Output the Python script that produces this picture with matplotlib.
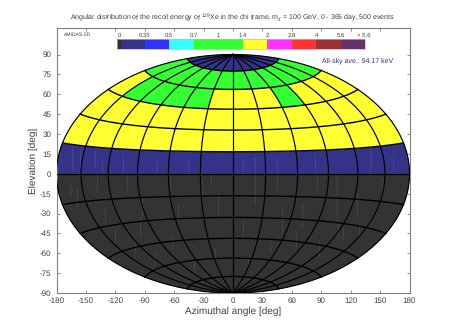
import numpy as np
import matplotlib
matplotlib.use("Agg")
import matplotlib.pyplot as plt
from matplotlib.colors import ListedColormap, BoundaryNorm

plt.rcParams['font.family'] = ['Liberation Sans', 'DejaVu Sans']
plt.rcParams['axes.unicode_minus'] = False
plt.rcParams['text.hinting'] = 'none'
plt.rcParams['text.hinting_factor'] = 1
plt.rcParams['mathtext.fontset'] = 'custom'
plt.rcParams['mathtext.rm'] = 'Liberation Sans'
plt.rcParams['mathtext.it'] = 'Liberation Sans:italic'
plt.rcParams['mathtext.bf'] = 'Liberation Sans:bold'
plt.rcParams['mathtext.fallback'] = 'stixsans'
TXT = '#404040'
GR = '#808080'

lon_edges = [-180, -150, -120, -90, -60, -30, 0, 30, 60, 90, 120, 150, 180]
lat_edges = [-90, -75, -60, -45, -30, -15, 0, 15, 30, 45, 60, 75, 90]

# ratio to the all-sky average, rows from south to north, columns west to east
row_s90 = [0.0] * 12
row_s75 = [0.0] * 12
row_s60 = [0.0] * 12
row_s45 = [0.0] * 12
row_s30 = [0.0] * 12
row_s15 = [0.0] * 12
row_n00 = [0.2] * 12
row_n15 = [1.6] * 12
row_n30 = [1.6] * 12
row_n45 = [1.6, 1.1, 1.1, 1.1, 1.1, 1.6, 1.6, 1.6, 1.1, 1.6, 1.6, 1.6]
row_n60 = [1.1] * 12
row_n75 = [0.2] * 12
ratio = [row_s90, row_s75, row_s60, row_s45, row_s30, row_s15,
         row_n00, row_n15, row_n30, row_n45, row_n60, row_n75]

level_labels = ['0', '0.35', '0.5', '0.7', '1', '1.4', '2', '2.8', '4', '5.6', '> 5.6']
level_bounds = [-0.01, 0.01, 0.35, 0.5, 0.7, 1.4, 2.0, 2.8, 4.0, 5.6, 100]
level_colors = ['#333333', '#333388', '#3333ff', '#33ffff', '#33ff33',
                '#ffff33', '#ff33ff', '#ff3333', '#993333', '#663366']
bar_edges = [-118, -113, -90, -65, -40, 10, 35, 60, 85, 110, 135]
label_pos = [-116, -90, -65, -40, -15, 10, 35, 60, 85, 110, 133]
bar_bottom, bar_top = 94.5, 101.5

# faint vertical streaks seen in the low-value cells
streak_x = [-164.6, -156, -141, -134, -112, -78, -45.5, -22, -159.4, -108.5, -95, -166, -139,
            -64, -32, -56, -15, -130.5, -93, 10.5, 22.4, 44.5, 44.5, 83.6, 105.7, 105.7, 139.7,
            141.4, 163.5, 10.5, 49.6, 85.3, 126, 151.6, 70, 107.4,
            -120, -100, -80, -62, -40, -18, 15, 38, 64, 88, 112, 128]
streak_lo = [2.9, 2.9, 5.4, 0.4, 0.4, 1.6, 0.4, -7.2, -24.8, -12.2, -47.5, -17.3, -14.8,
             -12.2, -17.3, -34.9, -32.4, -37.4, -32.4, 0.4, -22.3, 0.4, -12.2, 0.4, -17.3, -34.9, 0.4,
             5.4, 2.9, -47.5, -45, -12.2, -32.4, -17.3, -40, -47.5,
             -52, -60, -68, -57, -72, -65, -72, -60, -55, -62, -50, -48]
streak_hi = [20.4, 17.9, 17.9, 10.4, 15.4, 12.9, 10.4, 0.0, -9.7, 0.4, -32.4, -7.2, -2.2,
             -0.9, -4.7, -22.3, -14.8, -24.8, -17.3, 10.4, 12.9, 10.4, 0.4, 15.4, 0.4, -17.3, 20.4,
             15.4, 15.4, -34.9, -25, 0.4, -14.8, -2.2, -22, -37.4,
             -42, -50, -58, -47, -62, -55, -62, -50, -45, -52, -40, -38]

cmap = ListedColormap(level_colors)
norm = BoundaryNorm(level_bounds, cmap.N)


def hammer(lon, lat):
    lam = np.radians(np.asarray(lon, float))
    phi = np.radians(np.asarray(lat, float))
    d = np.sqrt(1 + np.cos(phi) * np.cos(lam / 2))
    return 180 * np.cos(phi) * np.sin(lam / 2) / d, 90 * np.sin(phi) / d


fig = plt.figure(figsize=(4.58, 3.21), dpi=100)
ax = fig.add_axes([56.5 / 458, 28 / 321, 353 / 458, 265 / 321])
ax.set_xlim(-180, 180)
ax.set_ylim(-90, 110)

for j in range(12):
    for i in range(12):
        lo = np.linspace(lon_edges[i], lon_edges[i + 1], 20)
        la = np.linspace(lat_edges[j], lat_edges[j + 1], 20)
        plon = np.r_[lo, np.full(20, lo[-1]), lo[::-1], np.full(20, lo[0])]
        plat = np.r_[np.full(20, la[0]), la, np.full(20, la[-1]), la[::-1]]
        x, y = hammer(plon, plat)
        c = cmap(norm(ratio[j][i]))
        ax.fill(x, y, color=c, lw=0.3, zorder=1)

ax.vlines(streak_x, streak_lo, streak_hi, color='white', alpha=0.09, lw=0.7, zorder=2)

for lat in lat_edges[1:-1]:
    x, y = hammer(np.linspace(-180, 180, 200), np.full(200, lat))
    ax.plot(x, y, color='black', lw=1.0, zorder=3)
for lon in lon_edges:
    x, y = hammer(np.full(200, lon), np.linspace(-90, 90, 200))
    ax.plot(x, y, color='black', lw=0.85, zorder=3)

for k in range(len(level_colors)):
    ax.fill_between([bar_edges[k], bar_edges[k + 1]], bar_bottom, bar_top,
                    color=level_colors[k], lw=0, zorder=2)
ax.plot([bar_edges[0], bar_edges[-1], bar_edges[-1], bar_edges[0], bar_edges[0]],
        [bar_bottom, bar_bottom, bar_top, bar_top, bar_bottom],
        color='#bbbbbb', lw=0.5, zorder=2)
for p, s in zip(label_pos, level_labels):
    ax.text(p, 104.7, s, ha='center', va='center', fontsize=4.0, color=TXT)

ax.text(-172, 105.2, 'AMIDAS-2D', ha='left', va='center', fontsize=3.8, color=TXT)
ax.text(91, 85.5, 'All-sky ave.: 94.17 keV', ha='left', va='center', fontsize=5.0, color='#333388')

ax.set_xticks(np.arange(-180, 181, 30))
ax.set_yticks(np.arange(-90, 91, 15))
ax.tick_params(direction='in', length=2, width=0.6, color=GR, labelsize=5.7,
               labelcolor=TXT, top=True, right=True)
ax.tick_params(axis='x', pad=3)
ax.tick_params(axis='y', pad=3.5)
for s in ax.spines.values():
    s.set_color(GR)
    s.set_linewidth(0.8)
ax.set_xlabel('Azimuthal angle [deg]', fontsize=7.2, color=TXT, labelpad=1.2)
ax.set_ylabel('Elevation [deg]', fontsize=7.4, color=TXT, labelpad=1.5)
fig.text(232.5 / 458, 1 - 17.5 / 321,
         'Angular distribution of the recoil energy of $^{129}$Xe in the chi frame, '
         'm$_{\\chi}$ = 100 GeV, 0 - 365 day, 500 events',
         ha='center', va='center', fontsize=5.35, color=TXT)

fig.savefig('out.png', dpi=100)
